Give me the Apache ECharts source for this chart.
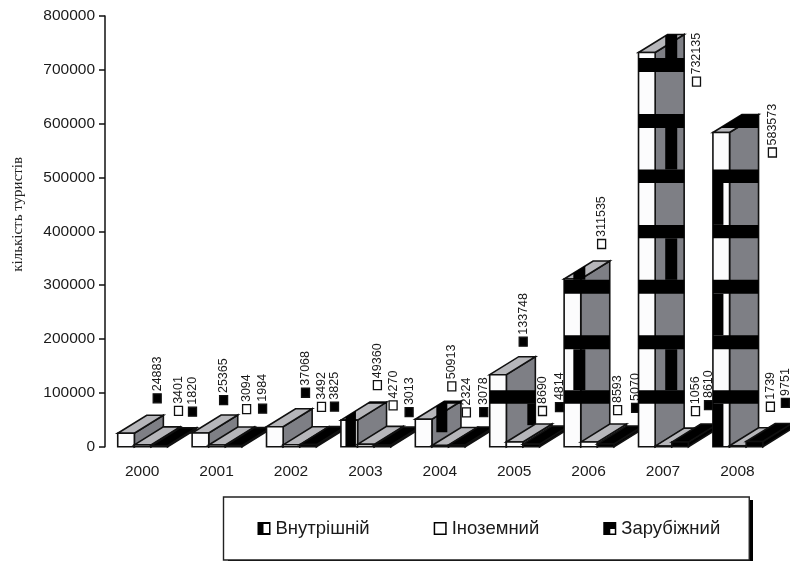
<!DOCTYPE html>
<html><head><meta charset="utf-8">
<style>html,body{margin:0;padding:0;background:#fff}#c{width:790px;height:561px}</style>
<script src="https://cdn.jsdelivr.net/npm/echarts@6/dist/echarts.min.js"></script>
</head><body><div id="c"></div>
<script>
const years = ['2000','2001','2002','2003','2004','2005','2006','2007','2008'];
const domestic = [24883,25365,37068,49360,50913,133748,311535,732135,583573];
const foreign = [3401,3094,3492,4270,2324,8690,8593,1056,1739];
const outbound = [1820,1984,3825,3013,3078,4814,5070,8610,9751];
const yTicks = {min:0,max:800000,step:100000};
const seriesNames = ['Внутрішній','Іноземний','Зарубіжний'];
const domesticKeyFilled = [true,true,true,false,false,true,false,false,false];

// layout of the hand-placed value labels: [dx from category centre, dy from value pixel]
const labelPlace = [
 [[15,-35],[7,-33],[14.5,-34],[12,-35],[12,-33],[9,-33],[13,-35],[33.5,29],[35,20]],
 [[36.3,-34],[30,-36],[30.5,-38],[27.7,-39],[26.6,-33],[28.3,-31],[29,-32],[32.5,-35],[33,-39]],
 [[50.3,-34],[46,-37],[43.5,-38],[43.7,-33],[43.9,-33],[45.3,-37],[47,-36],[45.5,-37],[48,-38.5]]
];
// print artefacts of the source: black bands across the domestic bars and vertical stripes
const bandRanges = [[696000,722000],[592000,618000],[490000,515000],[387000,412000],[284000,310000],[181000,207000],[80000,105000]];
const stripes = {
 3:{off:4.5,w:10.5,spans:[[0,999999]]},
 4:{off:21,w:11,spans:[[27000,83000]]},
 5:{off:37.6,w:9,spans:[[40000,80000]]},
 6:{off:9.2,w:12,spans:[[105000,181000],[310000,999999]]},
 7:{off:26.7,w:12,spans:[[105000,181000],[310000,387000],[515000,592000],[722000,999999]]},
 8:{off:0,w:10.5,spans:[[0,80000],[207000,284000],[412000,490000]]}
};
const DX=29, DY=18, OUTLINE='#111';
const SANS='"Liberation Sans"';

function clip(poly,test,cross){
  const out=[];
  for(let i=0;i<poly.length;i++){
    const a=poly[i],b=poly[(i+1)%poly.length];
    const ia=test(a),ib=test(b);
    if(ia) out.push(a);
    if(ia!==ib) out.push(cross(a,b));
  }
  return out;
}
function clipRect(poly,xa,xb,ya,yb){
  const cx=v=>(a,b)=>[v,a[1]+(b[1]-a[1])*(v-a[0])/(b[0]-a[0])];
  const cy=v=>(a,b)=>[a[0]+(b[0]-a[0])*(v-a[1])/(b[1]-a[1]),v];
  let p=poly;
  p=clip(p,q=>q[0]>=xa,cx(xa)); if(p.length) p=clip(p,q=>q[0]<=xb,cx(xb));
  if(p.length) p=clip(p,q=>q[1]>=ya,cy(ya)); if(p.length) p=clip(p,q=>q[1]<=yb,cy(yb));
  return p;
}
function makeRender(s){
  return function(params,api){
    const i=api.value(0), v=api.value(1);
    const base=api.coord([i,0]), band=api.size([1,0])[0];
    const w=band*0.2235, x0=base[0]-band*0.329+s*w, x1=x0+w;
    const y0=base[1], yt=api.coord([i,v])[1];
    const z=(i+1)*10+s;
    const dark=s===2;
    const poly=(pts,fill,lw,stroke)=>({type:'polygon',z2:z,shape:{points:pts},
      style:{fill:fill,stroke:stroke===undefined?OUTLINE:stroke,lineWidth:lw===undefined?1.6:lw,lineJoin:'miter'}});
    const kids=[
      poly([[x1,yt],[x1+DX,yt-DY],[x1+DX,y0-DY],[x1,y0]],dark?'#000':'#7e7f85'),
      poly([[x0,yt],[x0+DX,yt-DY],[x1+DX,yt-DY],[x1,yt]],dark?'#000':'#b6b6ba'),
      poly([[x0,yt],[x1,yt],[x1,y0],[x0,y0]],dark?'#000':'#fcfcfd')
    ];
    if(s===0){
      const hex=[[x0,y0],[x0,yt],[x0+DX,yt-DY],[x1+DX,yt-DY],[x1+DX,y0-DY],[x1,y0]];
      const yOf=val=>api.coord([i,val])[1];
      bandRanges.forEach(r=>{
        const p=clipRect(hex,-1e5,1e5,yOf(r[1]),yOf(r[0]));
        if(p.length>2) kids.push(poly(p,'#000',0,'none'));
      });
      const st=stripes[i];
      if(st) st.spans.forEach(r=>{
        const top=r[1]>800000?-1e5:yOf(r[1]);
        const p=clipRect(hex,x0+st.off,x0+st.off+st.w,top,yOf(r[0]));
        if(p.length>2) kids.push(poly(p,'#000',0,'none'));
      });
    }
    // value label: key square and rotated number
    const place=labelPlace[s][i];
    const cx=base[0]+place[0], cy=yt+place[1];
    const filled=s===2||(s===0&&domesticKeyFilled[i]);
    kids.push({type:'rect',z2:z,shape:{x:cx-4,y:cy-4.5,width:8,height:9},
      style:{fill:filled?'#000':'#fff',stroke:'#111',lineWidth:1.3}});
    kids.push({type:'text',z2:z,x:cx,y:cy-7,rotation:Math.PI/2,
      style:{text:String(v),fill:'#1a1a1a',font:'12.5px "Liberation Sans"',textAlign:'left',textVerticalAlign:'middle'}});
    return {type:'group',children:kids};
  };
}
const mk=(idx,arr)=>({
  name:seriesNames[idx],type:'custom',coordinateSystem:'cartesian2d',
  itemStyle:{color:'#000'},silent:true,animation:false,clip:false,
  encode:{x:0,y:1},
  data:arr.map((v,i)=>[i,v]),
  renderItem:makeRender(idx)
});
const chart=echarts.init(document.getElementById('c'),null,{renderer:'canvas'});
chart.setOption({
  animation:false,backgroundColor:'#fff',
  grid:{left:105,right:15.4,top:16,bottom:114.3,containLabel:false,outerBoundsMode:'none'},
  graphic:[{type:'rect',z:-1,silent:true,shape:{x:228,y:500,width:525,height:64},style:{fill:'#000'}}],
  xAxis:{type:'category',data:years,axisLine:{show:false},axisTick:{show:false},
    axisLabel:{fontFamily:SANS,fontSize:15.5,color:'#1a1a1a',margin:17,interval:0},splitLine:{show:false}},
  yAxis:{type:'value',min:yTicks.min,max:yTicks.max,interval:yTicks.step,
    name:'кількість туристів',nameLocation:'middle',nameGap:79,
    nameTextStyle:{fontFamily:'Liberation Serif',fontSize:15,color:'#222',padding:[0,0,0,34]},
    axisLine:{show:true,lineStyle:{color:'#111',width:1.5}},
    axisTick:{show:true,length:6,lineStyle:{color:'#111',width:1.5}},
    axisLabel:{fontFamily:SANS,fontSize:15.5,color:'#1a1a1a',margin:10,formatter:v=>String(v)},
    splitLine:{show:false}},
  legend:{
    left:223.5,top:497,
    orient:'horizontal',
    padding:[22,29,22,34],itemGap:64,itemWidth:13,itemHeight:15,
    backgroundColor:'#fff',borderColor:'#222',borderWidth:1.4,
    selectedMode:false,
    itemStyle:{borderWidth:0,color:'#000'},
    textStyle:{fontFamily:SANS,fontSize:18.5,lineHeight:16,color:'#1a1a1a'},
    data:[
      {name:seriesNames[0],icon:'path://M0 0H13V13H0Z M6 2V11H11.5V2Z'},
      {name:seriesNames[1],icon:'path://M0 0H13V13H0Z M1.5 1.5V11.5H11.5V1.5Z'},
      {name:seriesNames[2],icon:'path://M0 0H13V13H0Z M7 7V11.5H11.5V7Z'}
    ]
  },
  series:[mk(0,domestic),mk(1,foreign),mk(2,outbound)]
});
</script></body></html>
